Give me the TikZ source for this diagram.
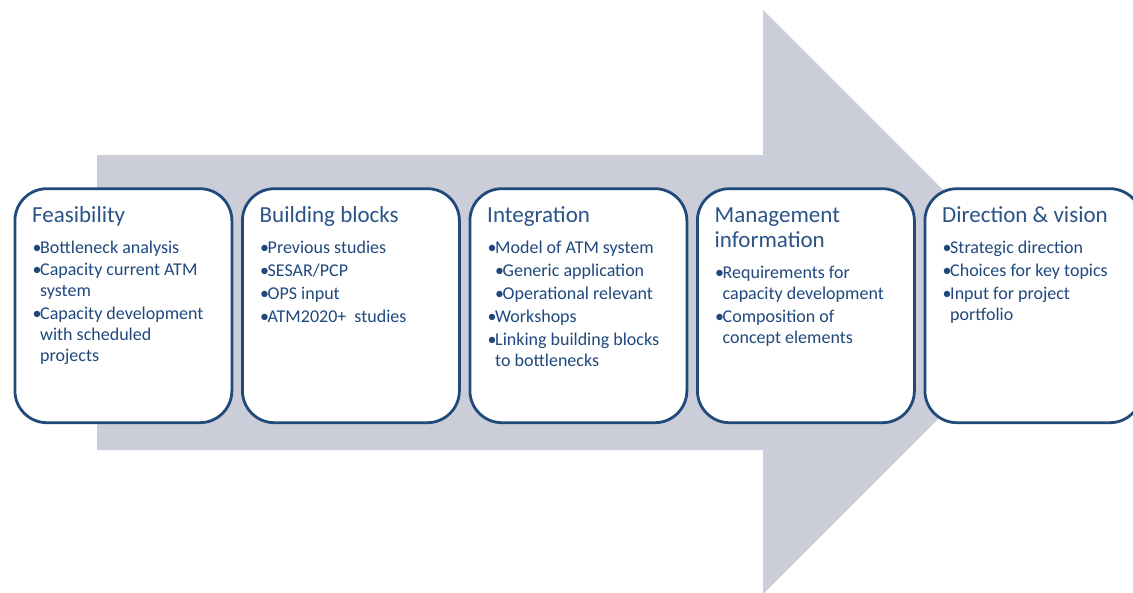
\documentclass[tikz,border=0pt]{standalone}
\usepackage{fontspec}
\setmainfont{Carlito}
\usetikzlibrary{calc}
\definecolor{arrowgray}{HTML}{CBCED8}
\definecolor{boxblue}{HTML}{1F4A7A}
\definecolor{txtblue}{HTML}{1F497D}
\definecolor{ttlblue}{HTML}{2A5488}
\newcommand{\bul}[1]{\par\hangindent=7.5pt\hangafter=1\noindent\makebox[7.5pt][l]{•}#1}
\newcommand{\subbul}[1]{\par\hangindent=15pt\hangafter=1\noindent\hspace*{7.5pt}\makebox[7.5pt][l]{•}#1}
\tikzset{
  stagebox/.style={draw=boxblue, line width=2.8pt, fill=white, rounded corners=32pt,
    minimum width=217pt, minimum height=234pt, anchor=north west, inner sep=0pt},
  ttl/.style={anchor=base west, inner sep=0pt, text=ttlblue, font=\fontsize{23}{25}\selectfont},
  blt/.style={anchor=base west, inner sep=0pt, text=txtblue, font=\fontsize{18}{21}\selectfont},
}
\begin{document}
\begin{tikzpicture}[x=1pt,y=-1pt]
\useasboundingbox (0,0) rectangle (1133,592);
\fill[white] (0,0) rectangle (1133,592);
\clip (0,0) rectangle (1133,592);
% big arrow
\fill[arrowgray] (97,155) -- (763,155) -- (763,10) -- (1055,302) -- (763,594) -- (763,450) -- (97,450) -- cycle;
% boxes
\node[stagebox] (b1) at (13.5,187.3) {};
\node[stagebox] (b2) at (241,187.3) {};
\node[stagebox] (b3) at (468.5,187.3) {};
\node[stagebox] (b4) at (696,187.3) {};
\node[stagebox] (b5) at (923.5,187.3) {};
% titles
\node[ttl] (t1) at ($(b1.north west)+(18.5,35)$) {Feasibility};
\node[ttl] (t2) at ($(b2.north west)+(18.5,35)$) {Building blocks};
\node[ttl] (t3) at ($(b3.north west)+(18.5,35)$) {Integration};
\node[ttl] (t4) at ($(b4.north west)+(18.5,35)$) {\parbox[t]{205pt}{Management\\information}};
\node[ttl] (t5) at ($(b5.north west)+(18.5,35)$) {Direction \& vision};
% bullet lists
\node[blt] (l1) at ($(b1.north west)+(19,66)$) {\parbox[t]{205pt}{\raggedright\setlength{\parskip}{1.5pt}%
  \bul{Bottleneck analysis}
  \bul{Capacity current ATM\newline system}
  \bul{Capacity development\newline with scheduled\newline projects}}};
\node[blt] (l2) at ($(b2.north west)+(19,66)$) {\parbox[t]{205pt}{\raggedright\setlength{\parskip}{2pt}%
  \bul{Previous studies}
  \bul{SESAR/PCP}
  \bul{OPS input}
  \bul{ATM2020+\ \ studies}}};
\node[blt] (l3) at ($(b3.north west)+(19,66)$) {\parbox[t]{205pt}{\raggedright\setlength{\parskip}{2pt}%
  \bul{Model of ATM system}
  \subbul{Generic application}
  \subbul{Operational relevant}
  \bul{Workshops}
  \bul{Linking building blocks\newline to bottlenecks}}};
\node[blt] (l4) at ($(b4.north west)+(19,91)$) {\parbox[t]{205pt}{\raggedright\setlength{\parskip}{2pt}%
  \bul{Requirements for\newline capacity development}
  \bul{Composition of\newline concept elements}}};
\node[blt] (l5) at ($(b5.north west)+(19,66)$) {\parbox[t]{205pt}{\raggedright\setlength{\parskip}{2pt}%
  \bul{Strategic direction}
  \bul{Choices for key topics}
  \bul{Input for project\newline portfolio}}};
\end{tikzpicture}
\end{document}
